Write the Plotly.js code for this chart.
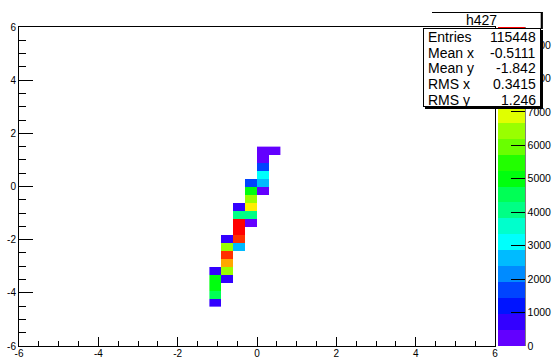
<!DOCTYPE html>
<html><head><meta charset="utf-8">
<script src="https://cdn.plot.ly/plotly-3.0.1.min.js"></script>
<style>html,body{margin:0;padding:0;background:#fff}#chart{width:556px;height:359px}</style>
</head><body><div id="chart"></div>
<script>
// ---- data (bin centres of 0.3-wide bins, bin contents) ----
const xCenters = [-1.05, -0.75, -0.45, -0.15, 0.15, 0.45];
const yCenters = [-4.35, -4.05, -3.75, -3.45, -3.15, -2.85, -2.55, -2.25, -1.95, -1.65,
                  -1.35, -1.05, -0.75, -0.45, -0.15, 0.15, 0.45, 0.75, 1.05, 1.35];
const cellX = [0.45,
  0.15, 0.15, 0.15, 0.15, 0.15, 0.15,
  -0.15, -0.15, -0.15, -0.15, -0.15, -0.15,
  -0.45, -0.45, -0.45, -0.45, -0.45, -0.45,
  -0.75, -0.75, -0.75, -0.75, -0.75, -0.75,
  -1.05, -1.05, -1.05, -1.05, -1.05];
const cellY = [1.35,
  1.35, 1.05, 0.75, 0.45, 0.15, -0.15,
  0.15, -0.15, -0.45, -0.75, -1.05, -1.35,
  -0.75, -1.05, -1.35, -1.65, -1.95, -2.25,
  -1.95, -2.25, -2.55, -2.85, -3.15, -3.45,
  -3.15, -3.45, -3.75, -4.05, -4.35];
const cellZ = [250,
  300, 350, 1650, 3100, 2600, 350,
  1700, 5000, 6400, 7400, 4050, 400,
  700, 4100, 9540, 9300, 8800, 2650,
  700, 6450, 8700, 7900, 6300, 720,
  650, 5100, 5150, 4500, 800];
const zMax = 9540;
const tickVals = [-6, -4, -2, 0, 2, 4, 6];
const tickText = ['-6', '-4', '-2', '0', '2', '4', '6'];
const zTickVals = [0, 1000, 2000, 3000, 4000, 5000, 6000, 7000, 8000, 9000];
const histName = 'h427';
const statLabels = ['Entries', 'Mean x', 'Mean y', 'RMS x', 'RMS y'];
const statValues = ['115448', '-0.5111', '-1.842', '0.3415', '1.246'];

// ---- build z matrix ----
const z = yCenters.map(() => xCenters.map(() => null));
cellZ.forEach((v, i) => {
  const xi = xCenters.findIndex(c => Math.abs(c - cellX[i]) < 1e-6);
  const yi = yCenters.findIndex(c => Math.abs(c - cellY[i]) < 1e-6);
  z[yi][xi] = v;
});

// ---- ROOT "pretty" palette, 20 contour levels ----
function hls2rgb(h) {
  function f(hue) {
    if (hue > 360) hue -= 360; if (hue < 0) hue += 360;
    if (hue < 60) return hue / 60;
    if (hue < 180) return 1;
    if (hue < 240) return (240 - hue) / 60;
    return 0;
  }
  const r = Math.round(255 * f(h + 120)), g = Math.round(255 * f(h)), b = Math.round(255 * f(h - 120));
  return 'rgb(' + r + ',' + g + ',' + b + ')';
}
const nLev = 20, nCol = 50;
const colorscale = [];
for (let j = 0; j < nLev; j++) {
  const idx = Math.floor((j + 0.99) * nCol / nLev);
  const col = hls2rgb(280 - (idx + 1) * 280 / nCol);
  colorscale.push([j / nLev, col]);
  colorscale.push([(j + 1) / nLev, col]);
}

// ---- pixel helpers ----
const L = 19, R = 495, T = 27, B = 346;
const px = p => (p - L) / (R - L);
const py = p => (B - p) / (B - T);
const FONT = 'Liberation Sans, Arial, Helvetica, sans-serif';

const trace = {
  type: 'heatmap', x: xCenters, y: yCenters, z: z,
  zmin: 0, zmax: zMax, colorscale: colorscale, zsmooth: false,
  hoverongaps: false,
  colorbar: {
    x: px(497.5), xanchor: 'left', xpad: 0, y: 0.5, yanchor: 'middle', ypad: 0,
    len: 1, lenmode: 'fraction', thickness: 27, thicknessmode: 'pixels',
    outlinewidth: 0, ticks: 'inside', ticklen: 14, tickwidth: 1, tickcolor: '#000',
    tickmode: 'array', tickvals: zTickVals,
    tickfont: {family: FONT, size: 10.5, color: '#000'}
  }
};

const axBase = {
  range: [-6, 6], showline: true, linecolor: '#000', linewidth: 1, mirror: true,
  ticks: 'inside', tickwidth: 1, tickcolor: '#000',
  tickmode: 'array', tickvals: tickVals, ticktext: tickText,
  showgrid: false, zeroline: false, fixedrange: true, automargin: false,
  tickfont: {family: FONT, size: 10, color: '#000'}
};

const annotations = [];
// shadow + stats box
annotations.push({xref: 'paper', yref: 'paper', x: px(424.5), y: py(29.5), xanchor: 'left', yanchor: 'top',
  text: ' ', width: 116, height: 77, bgcolor: '#000', bordercolor: '#000', borderwidth: 1, borderpad: 0, showarrow: false});
annotations.push({xref: 'paper', yref: 'paper', x: px(423), y: py(28), xanchor: 'left', yanchor: 'top',
  text: ' ', width: 116, height: 77, bgcolor: '#fff', bordercolor: '#000', borderwidth: 1, borderpad: 0, showarrow: false});
annotations.push({xref: 'paper', yref: 'paper', x: px(481), y: py(20), xanchor: 'center', yanchor: 'middle',
  text: histName, showarrow: false, borderpad: 0, font: {family: FONT, size: 14, color: '#000'}});
const rowY = [37.3, 52.8, 68.5, 84, 99.5];
statLabels.forEach((s, i) => {
  annotations.push({xref: 'paper', yref: 'paper', x: px(427), y: py(rowY[i]), xanchor: 'left', yanchor: 'middle',
    text: s, showarrow: false, borderpad: 0, font: {family: FONT, size: 14, color: '#000'}});
  annotations.push({xref: 'paper', yref: 'paper', x: px(537), y: py(rowY[i]), xanchor: 'right', yanchor: 'middle',
    text: statValues[i], showarrow: false, borderpad: 0, font: {family: FONT, size: 14, color: '#000'}});
});

const shapes = [
  // colorbar axis line
  {type: 'line', xref: 'paper', yref: 'paper', x0: px(525), x1: px(525), y0: 0, y1: 1, line: {color: '#000', width: 1}},
  // title box top and right edge
  {type: 'line', xref: 'paper', yref: 'paper', x0: px(432), x1: px(542.5), y0: py(12.5), y1: py(12.5), line: {color: '#000', width: 1}},
  {type: 'line', xref: 'paper', yref: 'paper', x0: px(541.8), x1: px(541.8), y0: py(12), y1: py(29), line: {color: '#000', width: 2.2}}
];

const layout = {
  width: 556, height: 359,
  margin: {l: L, r: 556 - R, t: T, b: 359 - B, pad: 0, autoexpand: false},
  paper_bgcolor: '#fff', plot_bgcolor: '#fff',
  font: {family: FONT, size: 10, color: '#000'},
  showlegend: false,
  xaxis: Object.assign({}, axBase, {ticklen: 9.5, ticklabelstandoff: -2,
    minor: {tickmode: 'linear', tick0: -6, dtick: 0.5, ticks: 'inside', ticklen: 5, tickwidth: 1, tickcolor: '#000', showgrid: false}}),
  yaxis: Object.assign({}, axBase, {ticklen: 14,
    minor: {tickmode: 'linear', tick0: -6, dtick: 0.5, ticks: 'inside', ticklen: 7, tickwidth: 1, tickcolor: '#000', showgrid: false}}),
  annotations: annotations,
  shapes: shapes
};

Plotly.newPlot('chart', [trace], layout, {staticPlot: true, displayModeBar: false});
</script>
</body></html>
